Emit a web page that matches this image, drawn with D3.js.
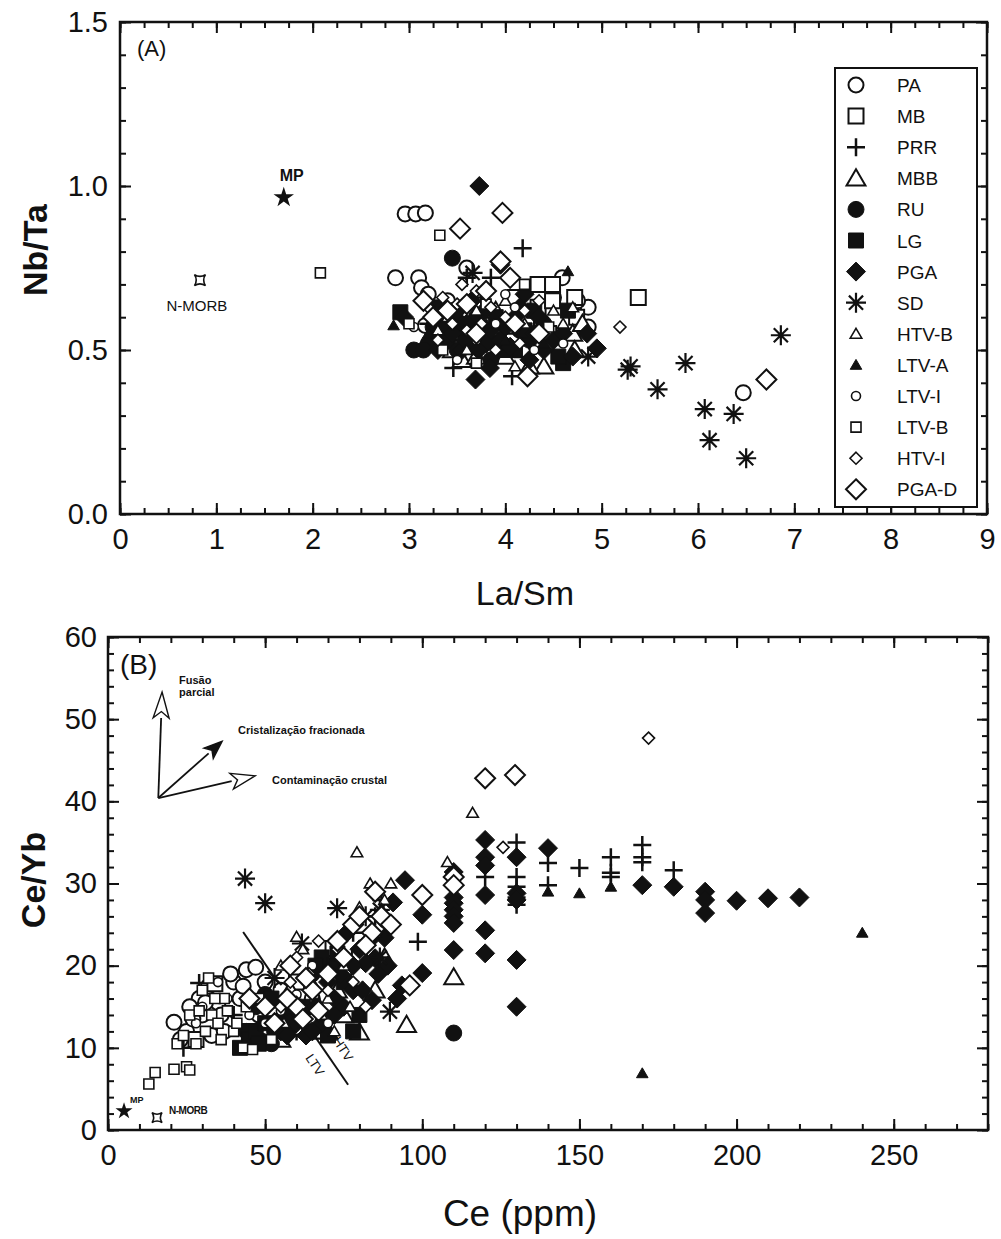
<!DOCTYPE html>
<html>
<head>
<meta charset="utf-8">
<script src="https://cdn.jsdelivr.net/npm/d3@7"></script>
<style>
body { margin: 0; background: #fff; }
text { font-family: "Liberation Sans", Arial, sans-serif; fill: #111; }
.tick line { stroke: #111; stroke-width: 2; }
</style>
</head>
<body>
<div id="chart"></div>
<script>
// ---- groups (legend order) ----
var groups = ['PA', 'MB', 'PRR', 'MBB', 'RU', 'LG', 'PGA', 'SD', 'HTV-B', 'LTV-A', 'LTV-I', 'LTV-B', 'HTV-I', 'PGA-D'];

// ---- panel A : La/Sm vs Nb/Ta ----
var paA = [[2.86,0.72],[2.96,0.915],[3.07,0.915],[3.17,0.918],[3.1,0.72],[3.13,0.69],[3.2,0.67],[3.17,0.575],[3.3,0.56],[4.59,0.72],[4.86,0.63],[4.86,0.57],[4.75,0.65],[4.5,0.66],[3.6,0.75],[3.4,0.65],[4.3,0.52],[6.47,0.37]];
var mbA = [[4.34,0.70],[4.49,0.70],[4.34,0.63],[4.49,0.65],[4.72,0.66],[4.74,0.60],[4.1,0.66],[4.45,0.55],[5.38,0.66]];
var prrA = [[4.18,0.81],[3.46,0.445],[4.07,0.42],[3.6,0.72],[3.55,0.60],[3.3,0.62],[3.75,0.66],[4.0,0.55],[3.2,0.58],[4.3,0.6],[3.85,0.72]];
var mbbA = [[3.55,0.47],[3.7,0.48],[4.0,0.48],[4.2,0.5],[4.7,0.55],[4.72,0.5],[4.4,0.45],[3.9,0.62],[4.8,0.58],[3.45,0.5],[4.25,0.45]];
var ruA = [[3.45,0.78],[3.05,0.5],[3.3,0.55],[3.4,0.58],[3.6,0.54],[3.9,0.52],[4.15,0.56],[3.7,0.60],[4.4,0.58],[3.2,0.52],[3.5,0.5],[3.25,0.57],[3.55,0.56],[3.85,0.47],[4.25,0.53],[3.15,0.5]];
var lgA = [[2.91,0.615],[4.6,0.46],[3.5,0.58],[3.3,0.63],[3.75,0.55],[4.3,0.62],[4.1,0.5],[3.9,0.6],[4.55,0.48],[3.62,0.52],[3.4,0.6],[4.0,0.5],[4.2,0.56],[4.65,0.62]];
var pgaA = [[3.73,1.0],[3.69,0.41],[3.84,0.445],[4.95,0.505],[3.5,0.62],[3.6,0.58],[3.4,0.53],[3.8,0.52],[4.0,0.57],[4.1,0.6],[4.3,0.55],[4.5,0.53],[4.7,0.48],[3.95,0.76],[4.4,0.5],[3.65,0.65],[4.25,0.47],[3.55,0.5],[2.95,0.6],[4.2,0.67],[4.85,0.55],[3.35,0.57],[3.45,0.55],[3.58,0.53],[3.72,0.5],[3.85,0.56],[3.95,0.53],[4.05,0.51],[4.15,0.63],[4.35,0.6],[4.6,0.55],[3.3,0.5],[3.78,0.62]];
var sdA = [[3.66,0.735],[4.86,0.48],[5.27,0.44],[5.3,0.45],[5.58,0.38],[5.87,0.46],[6.07,0.32],[6.12,0.225],[6.37,0.305],[6.5,0.17],[6.86,0.545]];
var htvbA = [[3.4,0.6],[3.7,0.62],[4.0,0.65],[4.2,0.58],[4.5,0.62],[4.6,0.58],[3.6,0.5],[4.1,0.45],[3.3,0.56],[4.7,0.63]];
var ltvaA = [[2.84,0.575],[4.65,0.74],[3.2,0.55],[3.6,0.56],[4.0,0.53],[4.4,0.52],[3.8,0.58]];
var ltviA = [[3.25,0.60],[3.45,0.63],[3.7,0.53],[3.9,0.58],[4.1,0.63],[4.3,0.5],[4.6,0.52],[3.5,0.47],[4.0,0.67],[3.05,0.57]];
var ltvbA = [[2.08,0.735],[3.32,0.85],[3.35,0.5],[3.8,0.64],[4.2,0.7],[4.45,0.57],[3.0,0.58],[3.7,0.46]];
var htviA = [[5.19,0.57],[3.2,0.63],[3.35,0.66],[3.5,0.64],[3.7,0.68],[3.85,0.63],[4.0,0.6],[4.2,0.62],[3.6,0.56],[3.45,0.58],[4.15,0.52],[3.9,0.5],[3.75,0.58],[3.55,0.7],[4.35,0.65],[3.3,0.53]];
var pgadA = [[3.53,0.87],[3.97,0.918],[6.71,0.41],[4.23,0.42],[3.95,0.77],[4.05,0.72],[3.8,0.68],[3.6,0.64],[3.4,0.62],[3.25,0.6],[4.1,0.58],[3.7,0.55],[4.35,0.55],[3.15,0.65]];
var refA = { MP: [1.7, 0.965], NMORB: [0.83, 0.713] };

// ---- panel B : Ce vs Ce/Yb ----
var paB = [[21,13.1],[25,12],[29,16],[32,17.5],[30,14],[35,15.5],[38,13],[44,19.5],[47,19.8],[42,16],[50,18],[55,17],[48,14],[33,11.5],[60,15],[65,16],[26,15],[40,18],[23,11],[27,13.5],[31,15.5],[36,14],[39,19],[43,17.5],[37,12]];
var mbB = [[71.6,22.1],[34,17.8],[28,11],[52,14],[60,18],[45,12],[75,19],[80,21]];
var prrB = [[29,17.9],[98.6,22.9],[24,10],[85,26],[87,28],[40,14],[60,12],[78,24],[120,30.8],[130,35],[130,30.8],[130,29.6],[130,28.3],[130,27.4],[140,32.5],[140,29.8],[150,31.9],[160,33.2],[160,31.3],[160,30.8],[170,34.7],[170,33.2],[170,32.6],[180,31.6]];
var mbbB = [[110,18.6],[95,12.8],[80,11.9],[88,21],[75,14],[70,12],[62,12.5],[55,11],[85,17],[73,17],[67,15],[58,17],[66,12]];
var ruB = [[110,11.8],[47,15],[50,16.5],[45,11],[53,12],[58,12.5],[49,10.8],[65,19],[70,20],[44,12],[52,10.5],[57,14.5]];
var lgB = [[42,10],[45,11],[47,12],[52,16],[55,13],[60,14],[64,12],[68,21],[72,20],[75,18],[80,14],[70,11.5],[78,12],[48,10.5],[50,13],[56,15],[62,15],[66,20],[73,21.5]];
var pgaB = [[120,35.3],[120,33.2],[120,32.2],[120,28.6],[120,24.3],[120,21.5],[130,33.2],[130,28.8],[130,28],[130,20.7],[130,15],[140,34.3],[170,29.8],[180,29.6],[190,29],[190,28],[190,26.4],[200,27.9],[210,28.2],[220,28.3],[110,31.4],[110,28.3],[110,27.6],[110,26.8],[110,26],[110,25.2],[110,21.9],[100,26.2],[100,19.1],[93.5,17.6],[94.5,30.4],[90.7,27.7],[88,23.4],[85,20.9],[84,15.8],[82,20.3],[78,17],[89,20],[75,15],[68,13],[72,14],[80,22],[63,11.5],[58,13],[55,12],[92,16],[70,18],[76,24],[72,16],[66,15],[74,19],[78,20],[81,17],[86,19],[83,23],[88,25.5],[60,13],[65,12],[57,11.5]];
var sdB = [[43.6,30.6],[50,27.6],[72.9,27],[86.5,21],[89.7,14.4],[82,26],[61.7,22.7],[53,18.5],[86.5,26.8]];
var htvbB = [[79.2,33.8],[116,38.6],[108,32.6],[83.4,30],[80,27.1],[90,30],[60,23.5],[62,22],[55,20],[70,16],[75,20],[85,24],[65,18],[88,28],[56,13],[68,14],[72,12],[77,15]];
var ltvaB = [[240,24],[170,6.9],[140,29],[150,28.8],[160,29.6],[87,27],[62,13]];
var ltviB = [[30,15],[35,18],[38,16],[45,14],[55,14.5],[60,16.5],[28,13],[50,13],[65,20],[70,13]];
var ltvbB = [[13,5.6],[15,7],[21,7.4],[25,7.7],[26,7.3],[22,10.5],[24,11.5],[28,10.5],[31,12],[33,14],[36,11],[32,18.5],[37,16],[40,12],[43,10],[46,9.8],[30,17],[26,14],[35,13],[48,16],[52,11],[29,14.5],[34,16],[38,14.5],[41,13],[44,15]];
var htviB = [[172,47.7],[125.7,34.4],[60,21],[64,19],[67,23],[70,17],[73,22],[78,18],[82,15],[55,15],[58,18]];
var pgadB = [[120,42.8],[129.5,43.2],[100,28.6],[96,17.6],[110,30.8],[110,29.8],[87,26],[84,24],[82,22.5],[78,25],[75,21],[70,19],[65,17],[60,15],[57,16],[50,15],[53,13],[67,14.5],[90,25],[85,29],[62,13.5],[45,16],[58,20],[63,18.5],[73,23],[80,26]];
var refB = { MP: [5.1, 2.3], NMORB: [15.6, 1.5] };

// process arrows (origin, tips) and LTV/HTV divide, in Ce / Ce-Yb units
var arrowOrigin = [16, 40.4];
var arrowTips = { fusao: [17.2, 53.3], crist: [36.3, 47.3], contam: [46.8, 43.1] };
var divideLine = [[43, 24.1], [76.4, 5.5]];

var seriesA = [paA, mbA, prrA, mbbA, ruA, lgA, pgaA, sdA, htvbA, ltvaA, ltviA, ltvbA, htviA, pgadA];
var seriesB = [paB, mbB, prrB, mbbB, ruB, lgB, pgaB, sdB, htvbB, ltvaB, ltviB, ltvbB, htviB, pgadB];

// ---- symbol styles ----
var sym = {
	'PA':    { shape: 'circle',   s: 7.5, fill: false, sw: 2 },
	'MB':    { shape: 'square',   s: 7.5, fill: false, sw: 2 },
	'PRR':   { shape: 'plus',     s: 9,   fill: false, sw: 2.5 },
	'MBB':   { shape: 'triangle', s: 9,   fill: false, sw: 2 },
	'RU':    { shape: 'circle',   s: 8,   fill: true,  sw: 1 },
	'LG':    { shape: 'square',   s: 7.5, fill: true,  sw: 1 },
	'PGA':   { shape: 'diamond',  s: 9.5, fill: true,  sw: 1 },
	'SD':    { shape: 'asterisk', s: 10,  fill: false, sw: 2.2 },
	'HTV-B': { shape: 'triangle', s: 5.5, fill: false, sw: 1.6 },
	'LTV-A': { shape: 'triangle', s: 5.5, fill: true,  sw: 1 },
	'LTV-I': { shape: 'circle',   s: 4.5, fill: false, sw: 1.6 },
	'LTV-B': { shape: 'square',   s: 5,   fill: false, sw: 1.6 },
	'HTV-I': { shape: 'diamond',  s: 6,   fill: false, sw: 1.6 },
	'PGA-D': { shape: 'diamond',  s: 10,  fill: false, sw: 2 }
};

function shapePath(shape, s) {
	var k = s * 0.7071;
	switch (shape) {
		case 'circle': return 'M' + s + ',0A' + s + ',' + s + ' 0 1,1 ' + (-s) + ',0A' + s + ',' + s + ' 0 1,1 ' + s + ',0Z';
		case 'square': return 'M' + (-s) + ',' + (-s) + 'H' + s + 'V' + s + 'H' + (-s) + 'Z';
		case 'diamond': return 'M0,' + (-s) + 'L' + s + ',0L0,' + s + 'L' + (-s) + ',0Z';
		case 'triangle': return 'M0,' + (-s) + 'L' + (s * 1.05) + ',' + (s * 0.8) + 'L' + (-s * 1.05) + ',' + (s * 0.8) + 'Z';
		case 'plus': return 'M' + (-s) + ',0H' + s + 'M0,' + (-s) + 'V' + s;
		case 'asterisk': return 'M0,' + (-s) + 'V' + s + 'M' + (-s) + ',0H' + s +
			'M' + (-k) + ',' + (-k) + 'L' + k + ',' + k + 'M' + (-k) + ',' + k + 'L' + k + ',' + (-k);
		case 'nmorb': return 'M' + (-s) + ',' + (-s) + 'Q0,' + (-s * 0.35) + ' ' + s + ',' + (-s) +
			'Q' + (s * 0.35) + ',0 ' + s + ',' + s + 'Q0,' + (s * 0.35) + ' ' + (-s) + ',' + s +
			'Q' + (-s * 0.35) + ',0 ' + (-s) + ',' + (-s) + 'Z';
	}
}

function drawSymbol(sel, name) {
	var st = sym[name];
	sel.attr('d', shapePath(st.shape, st.s))
		.attr('fill', st.fill ? '#111' : (st.shape === 'plus' || st.shape === 'asterisk' ? 'none' : '#fff'))
		.attr('stroke', '#111')
		.attr('stroke-width', st.sw)
		.attr('stroke-linejoin', 'miter');
}

var W = 1001, H = 1239;
var svg = d3.select('#chart').append('svg')
	.attr('width', W)
	.attr('height', H);

function range(a, b, step) {
	var out = [];
	for (var v = a; v <= b + 1e-9; v += step) out.push(+v.toFixed(4));
	return out;
}

// frame with inward ticks on all four sides
function frame(x, y, o) {
	var g = svg.append('g');
	var x0 = x.range()[0], x1 = x.range()[1], y0 = y.range()[0], y1 = y.range()[1];

	[[d3.axisBottom, y0], [d3.axisTop, y1]].forEach(function (a, i) {
		g.append('g').attr('transform', 'translate(0,' + a[1] + ')')
			.call(a[0](x).tickValues(range(x.domain()[0], x.domain()[1], o.xMinor)).tickSize(-6).tickFormat(''));
		var maj = g.append('g').attr('transform', 'translate(0,' + a[1] + ')')
			.call(a[0](x).tickValues(range(x.domain()[0], x.domain()[1], o.xMajor)).tickSize(-11)
				.tickPadding(o.xPad).tickFormat(i === 0 ? o.xFmt : ''));
		maj.selectAll('text').style('font-size', o.fs + 'px');
	});
	[[d3.axisLeft, x0], [d3.axisRight, x1]].forEach(function (a, i) {
		g.append('g').attr('transform', 'translate(' + a[1] + ',0)')
			.call(a[0](y).tickValues(range(y.domain()[0], y.domain()[1], o.yMinor)).tickSize(-6).tickFormat(''));
		var maj = g.append('g').attr('transform', 'translate(' + a[1] + ',0)')
			.call(a[0](y).tickValues(range(y.domain()[0], y.domain()[1], o.yMajor)).tickSize(-11)
				.tickPadding(o.yPad).tickFormat(i === 0 ? o.yFmt : ''));
		maj.selectAll('text').style('font-size', o.fs + 'px');
	});
	g.selectAll('.domain').remove();
	g.selectAll('text').attr('fill', '#111');

	g.append('rect')
		.attr('x', x0).attr('y', y1)
		.attr('width', x1 - x0).attr('height', y0 - y1)
		.attr('fill', 'none').attr('stroke', '#111').attr('stroke-width', 2.5);
}

function scatter(x, y, series) {
	var g = svg.append('g');
	series.forEach(function (pts, i) {
		var name = groups[i];
		g.selectAll(null).data(pts).enter().append('path')
			.attr('transform', function (d) { return 'translate(' + x(d[0]) + ',' + y(d[1]) + ')'; })
			.call(drawSymbol, name);
	});
}

function refPoints(x, y, ref, sStar, sMorb) {
	svg.append('path')
		.attr('transform', 'translate(' + x(ref.MP[0]) + ',' + y(ref.MP[1]) + ')')
		.attr('d', d3.symbol(d3.symbolStar, sStar)())
		.attr('fill', '#111');
	svg.append('path')
		.attr('transform', 'translate(' + x(ref.NMORB[0]) + ',' + y(ref.NMORB[1]) + ')')
		.attr('d', shapePath('nmorb', sMorb))
		.attr('fill', '#fff').attr('stroke', '#111').attr('stroke-width', 1.6);
}

/* ===== panel A ===== */
var xA = d3.scaleLinear().domain([0, 9]).range([120, 987]);
var yA = d3.scaleLinear().domain([0, 1.5]).range([514, 22]);

scatter(xA, yA, seriesA);
refPoints(xA, yA, refA, 130, 5.5);

frame(xA, yA, {
	xMajor: 1, xMinor: 0.25, yMajor: 0.5, yMinor: 0.1,
	xFmt: d3.format('d'), yFmt: d3.format('.1f'),
	xPad: 14, yPad: 12, fs: 29
});

svg.append('text').attr('x', 137).attr('y', 56).style('font-size', '22px').text('(A)');
svg.append('text').attr('x', xA(refA.MP[0]) + 8).attr('y', yA(refA.MP[1]) - 16)
	.attr('text-anchor', 'middle').style('font-size', '16px').style('font-weight', 'bold').text('MP');
svg.append('text').attr('x', xA(refA.NMORB[0]) - 3).attr('y', yA(refA.NMORB[1]) + 31)
	.attr('text-anchor', 'middle').style('font-size', '15px').text('N-MORB');

svg.append('text')
	.attr('transform', 'translate(47,250) rotate(-90)')
	.attr('text-anchor', 'middle')
	.style('font-size', '34px').style('font-weight', 'bold')
	.text('Nb/Ta');
svg.append('text')
	.attr('x', 525).attr('y', 605)
	.attr('text-anchor', 'middle')
	.style('font-size', '34px')
	.text('La/Sm');

// legend
var leg = svg.append('g');
leg.append('rect')
	.attr('x', 835).attr('y', 68).attr('width', 142).attr('height', 439)
	.attr('fill', '#fff').attr('stroke', '#111').attr('stroke-width', 2);
groups.forEach(function (name, i) {
	var yy = 85 + i * 31.1;
	leg.append('path').attr('transform', 'translate(856,' + yy + ')').call(drawSymbol, name);
	leg.append('text').attr('x', 897).attr('y', yy + 7)
		.style('font-size', '19px').text(name);
});

/* ===== panel B ===== */
var xB = d3.scaleLinear().domain([0, 280]).range([108, 988]);
var yB = d3.scaleLinear().domain([0, 60]).range([1130, 637]);

// LTV / HTV divide
svg.append('line')
	.attr('x1', xB(divideLine[0][0])).attr('y1', yB(divideLine[0][1]))
	.attr('x2', xB(divideLine[1][0])).attr('y2', yB(divideLine[1][1]))
	.attr('stroke', '#111').attr('stroke-width', 2);

scatter(xB, yB, seriesB);
refPoints(xB, yB, refB, 90, 5);

frame(xB, yB, {
	xMajor: 50, xMinor: 10, yMajor: 10, yMinor: 2,
	xFmt: d3.format('d'), yFmt: d3.format('d'),
	xPad: 14, yPad: 11, fs: 29
});

svg.append('text').attr('x', 120).attr('y', 674).style('font-size', '28px').text('(B)');

svg.append('text').attr('x', xB(refB.MP[0]) + 6).attr('y', yB(refB.MP[1]) - 8)
	.style('font-size', '9px').style('font-weight', 'bold').text('MP');
svg.append('text').attr('x', xB(refB.NMORB[0]) + 12).attr('y', yB(refB.NMORB[1]) - 4)
	.style('font-size', '10px').style('font-weight', 'bold').style('letter-spacing', '-0.5px').text('N-MORB');

var along = d3.interpolate([xB(divideLine[0][0]), yB(divideLine[0][1])], [xB(divideLine[1][0]), yB(divideLine[1][1])]);
var pLab = along(0.82);
svg.append('text')
	.attr('transform', 'translate(' + (pLab[0] + 10) + ',' + (pLab[1] - 6) + ') rotate(57)')
	.attr('text-anchor', 'middle')
	.style('font-size', '13px').text('HTV');
svg.append('text')
	.attr('transform', 'translate(' + (pLab[0] - 18) + ',' + (pLab[1] + 10) + ') rotate(57)')
	.attr('text-anchor', 'middle')
	.style('font-size', '13px').text('LTV');

// process arrows
function arrow(tip, filled, len, half) {
	var ox = xB(arrowOrigin[0]), oy = yB(arrowOrigin[1]);
	var tx = xB(tip[0]), ty = yB(tip[1]);
	var dx = tx - ox, dy = ty - oy, L = Math.sqrt(dx * dx + dy * dy);
	var ux = dx / L, uy = dy / L;
	var bx = tx - ux * len, by = ty - uy * len;
	svg.append('line').attr('x1', ox).attr('y1', oy).attr('x2', bx).attr('y2', by)
		.attr('stroke', '#111').attr('stroke-width', 1.8);
	svg.append('path')
		.attr('d', 'M' + tx + ',' + ty + 'L' + (bx - uy * half) + ',' + (by + ux * half) +
			'L' + (bx + ux * len * 0.25) + ',' + (by + uy * len * 0.25) +
			'L' + (bx + uy * half) + ',' + (by - ux * half) + 'Z')
		.attr('fill', filled ? '#111' : '#fff')
		.attr('stroke', '#111').attr('stroke-width', 1.4).attr('stroke-linejoin', 'miter');
}
arrow(arrowTips.fusao, false, 26, 8);
arrow(arrowTips.crist, true, 18, 7);
arrow(arrowTips.contam, false, 24, 8);

var ann = svg.append('g').style('font-size', '11px').style('font-weight', 'bold');
ann.append('text').attr('x', xB(arrowTips.fusao[0]) + 17).attr('y', yB(arrowTips.fusao[1]) - 8).text('Fusão');
ann.append('text').attr('x', xB(arrowTips.fusao[0]) + 17).attr('y', yB(arrowTips.fusao[1]) + 4).text('parcial');
ann.append('text').attr('x', xB(arrowTips.crist[0]) + 16).attr('y', yB(arrowTips.crist[1]) - 7).text('Cristalização fracionada');
ann.append('text').attr('x', xB(arrowTips.contam[0]) + 17).attr('y', yB(arrowTips.contam[1]) + 8).text('Contaminação  crustal');

svg.append('text')
	.attr('transform', 'translate(45,880) rotate(-90)')
	.attr('text-anchor', 'middle')
	.style('font-size', '34px').style('font-weight', 'bold')
	.text('Ce/Yb');
svg.append('text')
	.attr('x', 520).attr('y', 1226)
	.attr('text-anchor', 'middle')
	.style('font-size', '37px')
	.text('Ce (ppm)');
</script>
</body>
</html>
